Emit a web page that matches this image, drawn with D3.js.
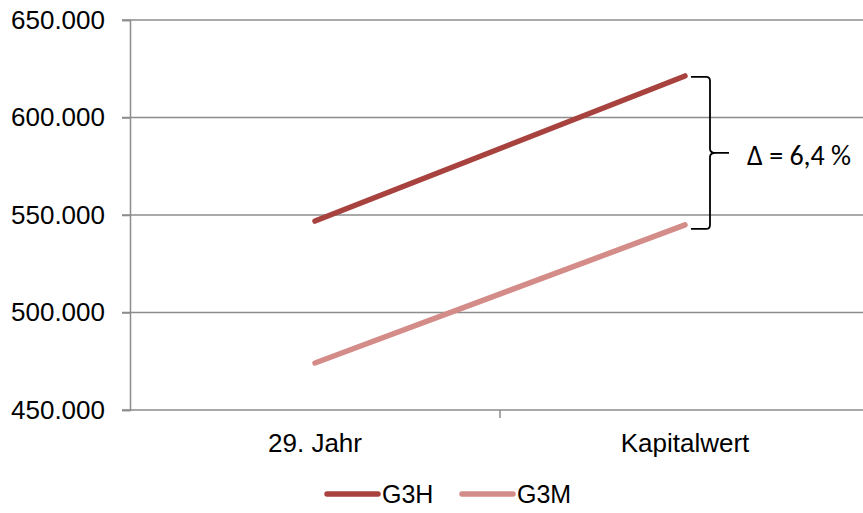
<!DOCTYPE html>
<html>
<head>
<meta charset="utf-8">
<script src="https://cdn.jsdelivr.net/npm/d3@7"></script>
<style>
  html, body { margin: 0; padding: 0; background: #fff; }
  svg { display: block; }
</style>
</head>
<body>
<svg id="chart" width="863" height="513"></svg>
<script>
// Categories, series and tick labels
const categories = ["29. Jahr", "Kapitalwert"];
const seriesNames = ["G3H", "G3M"];
const g3h = [546900, 621300];
const g3m = [474100, 544900];
const yTicks = [450000, 500000, 550000, 600000, 650000];
const deltaLabel = "Δ = 6,4 %";

const colors = { G3H: "#A8423E", G3M: "#D48C89" };
const series = [
  { name: seriesNames[0], values: g3h },
  { name: seriesNames[1], values: g3m }
];

const svg = d3.select("#chart");
const plotLeft = 130, plotRight = 870, plotTop = 20, plotBottom = 410;

const x = d3.scaleBand().domain(categories).range([plotLeft, plotRight]);
const y = d3.scaleLinear().domain([450000, 650000]).range([plotBottom, plotTop]);

const fmt = v => d3.format(",.0f")(v).replace(/,/g, ".");
const axisFont = "'Liberation Sans', Arial, sans-serif";
const axisSize = 26;

// horizontal gridlines
svg.append("g")
  .selectAll("line")
  .data(yTicks)
  .join("line")
  .attr("x1", plotLeft - 8)
  .attr("x2", 863)
  .attr("y1", d => y(d))
  .attr("y2", d => y(d))
  .attr("stroke", "#8c8c8c")
  .attr("stroke-width", 1.5);

// y axis
const yAxis = svg.append("g")
  .attr("transform", `translate(${plotLeft},0)`)
  .call(d3.axisLeft(y).tickValues(yTicks).tickFormat(fmt).tickSize(8).tickPadding(17));
yAxis.select(".domain").attr("stroke", "#8c8c8c").attr("stroke-width", 1.5);
yAxis.selectAll(".tick line").attr("stroke", "#8c8c8c").attr("stroke-width", 1.5);
yAxis.selectAll("text")
  .attr("font-family", axisFont)
  .attr("font-size", axisSize)
  .attr("fill", "#000");

// x axis
const xAxis = svg.append("g")
  .attr("transform", `translate(0,${plotBottom})`)
  .call(d3.axisBottom(x).tickSize(0).tickPadding(24));
xAxis.select(".domain").remove();
xAxis.selectAll("text")
  .attr("font-family", axisFont)
  .attr("font-size", axisSize)
  .attr("fill", "#000");

// category separator ticks
svg.append("g")
  .selectAll("line")
  .data(categories.slice(1))
  .join("line")
  .attr("x1", d => x(d))
  .attr("x2", d => x(d))
  .attr("y1", plotBottom)
  .attr("y2", plotBottom + 8)
  .attr("stroke", "#8c8c8c")
  .attr("stroke-width", 1.5);

// series lines
const line = d3.line()
  .x((d, i) => x(categories[i]) + x.bandwidth() / 2)
  .y(d => y(d));

svg.append("g")
  .selectAll("path")
  .data(series)
  .join("path")
  .attr("d", d => line(d.values))
  .attr("fill", "none")
  .attr("stroke", d => colors[d.name])
  .attr("stroke-width", 5.5)
  .attr("stroke-linecap", "round");

// brace spanning the two end values
const xEnd = x(categories[1]) + x.bandwidth() / 2;
const yTop = y(g3h[1]) + 1, yBot = y(g3m[1]) + 4;
const bx = xEnd + 25, bx0 = xEnd + 6, tipX = bx + 19;
const mid = (yTop + yBot) / 2;
const brace = d3.path();
brace.moveTo(bx0, yTop);
brace.lineTo(bx - 4, yTop);
brace.quadraticCurveTo(bx, yTop, bx, yTop + 4);
brace.lineTo(bx, mid - 4);
brace.quadraticCurveTo(bx, mid, bx + 6, mid);
brace.lineTo(tipX, mid);
brace.moveTo(bx + 6, mid);
brace.quadraticCurveTo(bx, mid, bx, mid + 4);
brace.lineTo(bx, yBot - 4);
brace.quadraticCurveTo(bx, yBot, bx - 4, yBot);
brace.lineTo(bx0, yBot);
svg.append("path")
  .attr("d", brace.toString())
  .attr("fill", "none")
  .attr("stroke", "#000")
  .attr("stroke-width", 1.8);

svg.append("text")
  .attr("x", tipX + 18)
  .attr("y", mid + 12)
  .attr("font-family", "Carlito, Lato, 'Open Sans', sans-serif")
  .attr("font-size", 28)
  .attr("fill", "#000")
  .text(deltaLabel);

// legend
const legend = svg.append("g")
  .selectAll("g")
  .data(series)
  .join("g")
  .attr("transform", (d, i) => `translate(${327 + i * 135},494)`);
legend.append("line")
  .attr("x1", 0).attr("x2", 51)
  .attr("stroke", d => colors[d.name])
  .attr("stroke-width", 5.5)
  .attr("stroke-linecap", "round");
legend.append("text")
  .attr("x", 55)
  .attr("y", 9)
  .attr("font-family", axisFont)
  .attr("font-size", 25)
  .attr("fill", "#000")
  .text(d => d.name);
</script>
</body>
</html>
